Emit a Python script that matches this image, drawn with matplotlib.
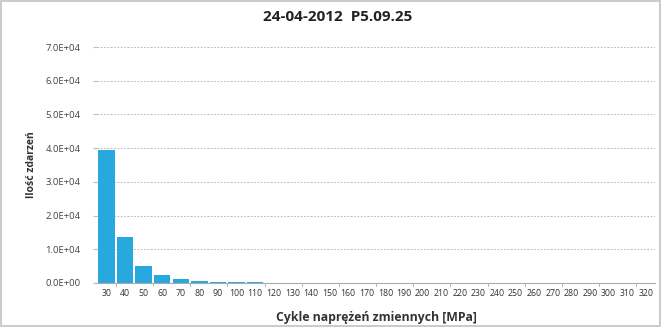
import numpy as np
import matplotlib.pyplot as plt
from matplotlib.ticker import FuncFormatter

# Stress range classes [MPa] and event counts per class
klasy = list(range(30, 330, 10))
zdarzenia = [39500, 13700, 5000, 2400, 1200, 500, 400, 300, 200, 100,
             50, 30, 20, 10, 10, 5, 5, 0, 0, 0,
             0, 0, 0, 0, 0, 0, 0, 0, 0, 0]

tytul = "24-04-2012  P5.09.25"
os_x = "Cykle naprężeń zmiennych [MPa]"
os_y = "Ilość zdarzeń"

plt.rcParams["font.family"] = ["Open Sans", "DejaVu Sans"]

fig = plt.figure(figsize=(6.61, 3.27), dpi=100)
ax = fig.add_axes([0.147, 0.1346, 0.844, 0.7214])

x = np.arange(len(klasy))
ax.bar(x, zdarzenia, width=0.88, color="#27a9e0", zorder=2)

ax.set_xlim(-0.5, len(klasy) - 0.5)
ax.set_ylim(0, 70000)
ax.set_yticks(np.arange(0, 70001, 10000))
ax.yaxis.set_major_formatter(FuncFormatter(lambda v, p: "{:.1E}".format(v)))
ax.set_xticks(x)
ax.set_xticklabels([str(k) for k in klasy], fontsize=6.3, color="#333333")
ax.tick_params(axis="x", length=0, pad=4)
ax.tick_params(axis="y", labelsize=6.8, labelcolor="#444444", length=3,
               color="#bbbbbb", pad=9)

# Tick marks between every second category
for pos in np.arange(0.5, len(klasy), 2):
    ax.plot([pos, pos], [0, -900], color="#aaaaaa", lw=0.6, clip_on=False)

ax.grid(axis="y", color="#aaaaaa", linestyle=(0, (2, 2)), lw=0.6, zorder=0)
for s in ["top", "right", "left"]:
    ax.spines[s].set_visible(False)
ax.spines["bottom"].set_color("#aaaaaa")
ax.spines["bottom"].set_linewidth(0.8)

fig.text(0.511, 0.948, tytul, fontsize=11, fontweight="bold", color="#222222",
         ha="center", va="center")
ax.set_xlabel(os_x, fontsize=8.8, fontweight="bold", color="#333333", labelpad=10)
ax.set_ylabel(os_y, fontsize=7.5, fontweight="bold", color="#333333", labelpad=6)

fig.patch.set_edgecolor("#cccccc")
fig.patch.set_linewidth(1.5)

fig.savefig("out.png", dpi=100, edgecolor=fig.get_edgecolor())
